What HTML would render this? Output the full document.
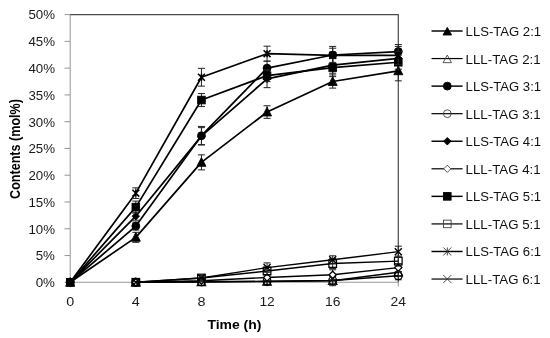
<!DOCTYPE html>
<html><head><meta charset="utf-8"><title>Chart</title>
<style>html,body{margin:0;padding:0;background:#fff}svg{display:block;will-change:transform;-webkit-font-smoothing:antialiased}</style>
</head><body>
<svg width="550" height="338" viewBox="0 0 550 338" font-family='"Liberation Sans", sans-serif'>
<rect width="550" height="338" fill="#fff"/>
<g stroke="#9a9a9a" stroke-width="1.05" fill="none">
<line x1="70.2" y1="14.6" x2="70.2" y2="282.3"/>
<line x1="70.2" y1="282.3" x2="398.3" y2="282.3"/>
<line x1="64.6" y1="282.30" x2="70.2" y2="282.30"/>
<line x1="64.6" y1="255.53" x2="70.2" y2="255.53"/>
<line x1="64.6" y1="228.76" x2="70.2" y2="228.76"/>
<line x1="64.6" y1="201.99" x2="70.2" y2="201.99"/>
<line x1="64.6" y1="175.22" x2="70.2" y2="175.22"/>
<line x1="64.6" y1="148.45" x2="70.2" y2="148.45"/>
<line x1="64.6" y1="121.68" x2="70.2" y2="121.68"/>
<line x1="64.6" y1="94.91" x2="70.2" y2="94.91"/>
<line x1="64.6" y1="68.14" x2="70.2" y2="68.14"/>
<line x1="64.6" y1="41.37" x2="70.2" y2="41.37"/>
<line x1="64.6" y1="14.60" x2="70.2" y2="14.60"/>
<line x1="70.20" y1="282.3" x2="70.20" y2="286.5"/>
<line x1="135.82" y1="282.3" x2="135.82" y2="286.5"/>
<line x1="201.44" y1="282.3" x2="201.44" y2="286.5"/>
<line x1="267.06" y1="282.3" x2="267.06" y2="286.5"/>
<line x1="332.68" y1="282.3" x2="332.68" y2="286.5"/>
<line x1="398.30" y1="282.3" x2="398.30" y2="286.5"/>
</g>
<path d="M70.2 14.6 H398.3 V282.3" stroke="#4a4a4a" stroke-width="1.2" stroke-linejoin="round" fill="none"/>
<g font-size="13.5" fill="#1a1a1a" text-anchor="end">
<text x="55.0" y="287.1" textLength="19.3" lengthAdjust="spacingAndGlyphs">0%</text>
<text x="55.0" y="260.3" textLength="19.3" lengthAdjust="spacingAndGlyphs">5%</text>
<text x="55.0" y="233.6" textLength="26.6" lengthAdjust="spacingAndGlyphs">10%</text>
<text x="55.0" y="206.8" textLength="26.6" lengthAdjust="spacingAndGlyphs">15%</text>
<text x="55.0" y="180.0" textLength="26.6" lengthAdjust="spacingAndGlyphs">20%</text>
<text x="55.0" y="153.3" textLength="26.6" lengthAdjust="spacingAndGlyphs">25%</text>
<text x="55.0" y="126.5" textLength="26.6" lengthAdjust="spacingAndGlyphs">30%</text>
<text x="55.0" y="99.7" textLength="26.6" lengthAdjust="spacingAndGlyphs">35%</text>
<text x="55.0" y="72.9" textLength="26.6" lengthAdjust="spacingAndGlyphs">40%</text>
<text x="55.0" y="46.2" textLength="26.6" lengthAdjust="spacingAndGlyphs">45%</text>
<text x="55.0" y="19.4" textLength="26.6" lengthAdjust="spacingAndGlyphs">50%</text>
</g>
<g font-size="13.4" fill="#1a1a1a" text-anchor="middle">
<text x="70.2" y="306.3" textLength="8.0" lengthAdjust="spacingAndGlyphs">0</text>
<text x="135.8" y="306.3" textLength="8.0" lengthAdjust="spacingAndGlyphs">4</text>
<text x="201.4" y="306.3" textLength="8.0" lengthAdjust="spacingAndGlyphs">8</text>
<text x="267.1" y="306.3" textLength="15.4" lengthAdjust="spacingAndGlyphs">12</text>
<text x="332.7" y="306.3" textLength="15.4" lengthAdjust="spacingAndGlyphs">16</text>
<text x="398.3" y="306.3" textLength="15.4" lengthAdjust="spacingAndGlyphs">24</text>
</g>
<text x="234.4" y="329.2" font-size="13.2" font-weight="bold" fill="#000" text-anchor="middle" textLength="54" lengthAdjust="spacingAndGlyphs">Time (h)</text>
<text transform="translate(19.5 149.0) rotate(-90)" font-size="15.2" font-weight="bold" fill="#000" text-anchor="middle" textLength="99.8" lengthAdjust="spacingAndGlyphs">Contents (mol%)</text>
<g><polyline points="70.20,282.30 135.82,237.33 201.44,162.37 267.06,112.04 332.68,81.53 398.30,70.82" fill="none" stroke="#000" stroke-width="1.7" stroke-linejoin="round"/>
<path d="M135.82 232.33 V242.33 M132.32 232.33 h7 M132.32 242.33 h7 M201.44 154.87 V169.87 M197.94 154.87 h7 M197.94 169.87 h7 M267.06 105.74 V118.34 M263.56 105.74 h7 M263.56 118.34 h7 M332.68 74.93 V88.12 M329.18 74.93 h7 M329.18 88.12 h7 M398.30 60.82 V80.82 M394.80 60.82 h7 M394.80 80.82 h7" stroke="#222" stroke-width="1" fill="none"/>
<path d="M70.20 277.50 L74.70 286.20 L65.70 286.20 Z" fill="#000" stroke="#000" stroke-width="0.9"/>
<path d="M135.82 232.53 L140.32 241.23 L131.32 241.23 Z" fill="#000" stroke="#000" stroke-width="0.9"/>
<path d="M201.44 157.57 L205.94 166.27 L196.94 166.27 Z" fill="#000" stroke="#000" stroke-width="0.9"/>
<path d="M267.06 107.24 L271.56 115.94 L262.56 115.94 Z" fill="#000" stroke="#000" stroke-width="0.9"/>
<path d="M332.68 76.73 L337.18 85.43 L328.18 85.43 Z" fill="#000" stroke="#000" stroke-width="0.9"/>
<path d="M398.30 66.02 L402.80 74.72 L393.80 74.72 Z" fill="#000" stroke="#000" stroke-width="0.9"/>
</g>
<g><polyline points="135.82,282.30 201.44,282.03 267.06,281.50 332.68,280.69 398.30,272.29" fill="none" stroke="#000" stroke-width="1.4" stroke-linejoin="round"/>
<path d="M267.06 278.00 V285.00 M263.56 278.00 h7 M263.56 285.00 h7 M332.68 275.69 V285.69 M329.18 275.69 h7 M329.18 285.69 h7 M398.30 268.29 V276.29 M394.80 268.29 h7 M394.80 276.29 h7" stroke="#222" stroke-width="1" fill="none"/>
<path d="M135.82 278.30 L140.02 285.90 L131.62 285.90 Z" fill="none" stroke="#000" stroke-width="1.25"/>
<path d="M201.44 278.03 L205.64 285.63 L197.24 285.63 Z" fill="none" stroke="#000" stroke-width="1.25"/>
<path d="M267.06 277.50 L271.26 285.10 L262.86 285.10 Z" fill="none" stroke="#000" stroke-width="1.25"/>
<path d="M332.68 276.69 L336.88 284.29 L328.48 284.29 Z" fill="none" stroke="#000" stroke-width="1.25"/>
<path d="M398.30 268.29 L402.50 275.89 L394.10 275.89 Z" fill="none" stroke="#000" stroke-width="1.25"/>
</g>
<g><polyline points="70.20,282.30 135.82,226.08 201.44,135.71 267.06,68.14 332.68,55.02 398.30,51.54" fill="none" stroke="#000" stroke-width="1.7" stroke-linejoin="round"/>
<path d="M135.82 222.08 V230.08 M132.32 222.08 h7 M132.32 230.08 h7 M201.44 126.41 V145.01 M197.94 126.41 h7 M197.94 145.01 h7 M267.06 61.14 V75.14 M263.56 61.14 h7 M263.56 75.14 h7 M332.68 46.42 V63.62 M329.18 46.42 h7 M329.18 63.62 h7 M398.30 44.54 V58.54 M394.80 44.54 h7 M394.80 58.54 h7" stroke="#222" stroke-width="1" fill="none"/>
<circle cx="70.20" cy="282.30" r="3.95" fill="#000" stroke="#000" stroke-width="0.9"/>
<circle cx="135.82" cy="226.08" r="3.95" fill="#000" stroke="#000" stroke-width="0.9"/>
<circle cx="201.44" cy="135.71" r="3.95" fill="#000" stroke="#000" stroke-width="0.9"/>
<circle cx="267.06" cy="68.14" r="3.95" fill="#000" stroke="#000" stroke-width="0.9"/>
<circle cx="332.68" cy="55.02" r="3.95" fill="#000" stroke="#000" stroke-width="0.9"/>
<circle cx="398.30" cy="51.54" r="3.95" fill="#000" stroke="#000" stroke-width="0.9"/>
</g>
<g><polyline points="135.82,282.30 201.44,281.76 267.06,281.23 332.68,280.43 398.30,275.77" fill="none" stroke="#000" stroke-width="1.4" stroke-linejoin="round"/>
<path d="M267.06 278.23 V284.23 M263.56 278.23 h7 M263.56 284.23 h7 M332.68 276.43 V284.43 M329.18 276.43 h7 M329.18 284.43 h7 M398.30 271.77 V279.77 M394.80 271.77 h7 M394.80 279.77 h7" stroke="#222" stroke-width="1" fill="none"/>
<circle cx="135.82" cy="282.30" r="3.9" fill="none" stroke="#000" stroke-width="1.25"/>
<circle cx="201.44" cy="281.76" r="3.9" fill="none" stroke="#000" stroke-width="1.25"/>
<circle cx="267.06" cy="281.23" r="3.9" fill="none" stroke="#000" stroke-width="1.25"/>
<circle cx="332.68" cy="280.43" r="3.9" fill="none" stroke="#000" stroke-width="1.25"/>
<circle cx="398.30" cy="275.77" r="3.9" fill="none" stroke="#000" stroke-width="1.25"/>
</g>
<g><polyline points="70.20,282.30 135.82,216.18 201.44,136.14 267.06,78.85 332.68,65.20 398.30,58.40" fill="none" stroke="#000" stroke-width="1.7" stroke-linejoin="round"/>
<path d="M135.82 212.18 V220.18 M132.32 212.18 h7 M132.32 220.18 h7 M201.44 127.64 V144.64 M197.94 127.64 h7 M197.94 144.64 h7 M267.06 70.05 V87.65 M263.56 70.05 h7 M263.56 87.65 h7 M332.68 57.20 V73.20 M329.18 57.20 h7 M329.18 73.20 h7 M398.30 51.40 V65.40 M394.80 51.40 h7 M394.80 65.40 h7" stroke="#222" stroke-width="1" fill="none"/>
<path d="M70.20 278.55 L73.95 282.30 L70.20 286.05 L66.45 282.30 Z" fill="#000" stroke="#000" stroke-width="0.9"/>
<path d="M135.82 212.43 L139.57 216.18 L135.82 219.93 L132.07 216.18 Z" fill="#000" stroke="#000" stroke-width="0.9"/>
<path d="M201.44 132.39 L205.19 136.14 L201.44 139.89 L197.69 136.14 Z" fill="#000" stroke="#000" stroke-width="0.9"/>
<path d="M267.06 75.10 L270.81 78.85 L267.06 82.60 L263.31 78.85 Z" fill="#000" stroke="#000" stroke-width="0.9"/>
<path d="M332.68 61.45 L336.43 65.20 L332.68 68.95 L328.93 65.20 Z" fill="#000" stroke="#000" stroke-width="0.9"/>
<path d="M398.30 54.65 L402.05 58.40 L398.30 62.15 L394.55 58.40 Z" fill="#000" stroke="#000" stroke-width="0.9"/>
</g>
<g><polyline points="135.82,282.30 201.44,280.69 267.06,277.48 332.68,274.80 398.30,267.58" fill="none" stroke="#000" stroke-width="1.4" stroke-linejoin="round"/>
<path d="M267.06 274.48 V280.48 M263.56 274.48 h7 M263.56 280.48 h7 M332.68 269.80 V279.80 M329.18 269.80 h7 M329.18 279.80 h7 M398.30 263.58 V271.58 M394.80 263.58 h7 M394.80 271.58 h7" stroke="#222" stroke-width="1" fill="none"/>
<path d="M135.82 278.70 L139.42 282.30 L135.82 285.90 L132.22 282.30 Z" fill="#fff" stroke="#000" stroke-width="1.25"/>
<path d="M201.44 277.09 L205.04 280.69 L201.44 284.29 L197.84 280.69 Z" fill="#fff" stroke="#000" stroke-width="1.25"/>
<path d="M267.06 273.88 L270.66 277.48 L267.06 281.08 L263.46 277.48 Z" fill="#fff" stroke="#000" stroke-width="1.25"/>
<path d="M332.68 271.20 L336.28 274.80 L332.68 278.40 L329.08 274.80 Z" fill="#fff" stroke="#000" stroke-width="1.25"/>
<path d="M398.30 263.98 L401.90 267.58 L398.30 271.18 L394.70 267.58 Z" fill="#fff" stroke="#000" stroke-width="1.25"/>
</g>
<g><polyline points="70.20,282.30 135.82,207.08 201.44,100.05 267.06,75.64 332.68,67.60 398.30,62.25" fill="none" stroke="#000" stroke-width="1.7" stroke-linejoin="round"/>
<path d="M135.82 201.08 V213.08 M132.32 201.08 h7 M132.32 213.08 h7 M201.44 93.55 V106.55 M197.94 93.55 h7 M197.94 106.55 h7 M267.06 69.64 V81.64 M263.56 69.64 h7 M263.56 81.64 h7 M332.68 58.60 V76.60 M329.18 58.60 h7 M329.18 76.60 h7 M398.30 55.25 V69.25 M394.80 55.25 h7 M394.80 69.25 h7" stroke="#222" stroke-width="1" fill="none"/>
<rect x="66.40" y="278.50" width="7.6" height="7.6" fill="#000" stroke="#000" stroke-width="0.9"/>
<rect x="132.02" y="203.28" width="7.6" height="7.6" fill="#000" stroke="#000" stroke-width="0.9"/>
<rect x="197.64" y="96.25" width="7.6" height="7.6" fill="#000" stroke="#000" stroke-width="0.9"/>
<rect x="263.26" y="71.84" width="7.6" height="7.6" fill="#000" stroke="#000" stroke-width="0.9"/>
<rect x="328.88" y="63.80" width="7.6" height="7.6" fill="#000" stroke="#000" stroke-width="0.9"/>
<rect x="394.50" y="58.45" width="7.6" height="7.6" fill="#000" stroke="#000" stroke-width="0.9"/>
</g>
<g><polyline points="135.82,282.30 201.44,278.02 267.06,271.06 332.68,263.56 398.30,261.10" fill="none" stroke="#000" stroke-width="1.4" stroke-linejoin="round"/>
<path d="M201.44 275.52 V280.52 M197.94 275.52 h7 M197.94 280.52 h7 M267.06 267.06 V275.06 M263.56 267.06 h7 M263.56 275.06 h7 M332.68 258.56 V268.56 M329.18 258.56 h7 M329.18 268.56 h7 M398.30 256.10 V266.10 M394.80 256.10 h7 M394.80 266.10 h7" stroke="#222" stroke-width="1" fill="none"/>
<rect x="132.02" y="278.50" width="7.6" height="7.6" fill="none" stroke="#000" stroke-width="1.25"/>
<rect x="197.64" y="274.22" width="7.6" height="7.6" fill="none" stroke="#000" stroke-width="1.25"/>
<rect x="263.26" y="267.26" width="7.6" height="7.6" fill="none" stroke="#000" stroke-width="1.25"/>
<rect x="328.88" y="259.76" width="7.6" height="7.6" fill="none" stroke="#000" stroke-width="1.25"/>
<rect x="394.50" y="257.30" width="7.6" height="7.6" fill="none" stroke="#000" stroke-width="1.25"/>
</g>
<g><polyline points="70.20,282.30 135.82,193.16 201.44,77.24 267.06,53.68 332.68,55.29 398.30,55.45" fill="none" stroke="#000" stroke-width="1.7" stroke-linejoin="round"/>
<path d="M135.82 187.86 V198.46 M132.32 187.86 h7 M132.32 198.46 h7 M201.44 68.34 V86.14 M197.94 68.34 h7 M197.94 86.14 h7 M267.06 46.18 V61.18 M263.56 46.18 h7 M263.56 61.18 h7 M332.68 48.19 V62.39 M329.18 48.19 h7 M329.18 62.39 h7 M398.30 46.45 V64.45 M394.80 46.45 h7 M394.80 64.45 h7" stroke="#222" stroke-width="1" fill="none"/>
<path d="M66.75 278.85 L73.65 285.75 M73.65 278.85 L66.75 285.75 M70.20 278.85 V285.75" fill="none" stroke="#000" stroke-width="1.55"/>
<path d="M132.37 189.71 L139.27 196.61 M139.27 189.71 L132.37 196.61 M135.82 189.71 V196.61" fill="none" stroke="#000" stroke-width="1.55"/>
<path d="M197.99 73.79 L204.89 80.69 M204.89 73.79 L197.99 80.69 M201.44 73.79 V80.69" fill="none" stroke="#000" stroke-width="1.55"/>
<path d="M263.61 50.23 L270.51 57.13 M270.51 50.23 L263.61 57.13 M267.06 50.23 V57.13" fill="none" stroke="#000" stroke-width="1.55"/>
<path d="M329.23 51.84 L336.13 58.74 M336.13 51.84 L329.23 58.74 M332.68 51.84 V58.74" fill="none" stroke="#000" stroke-width="1.55"/>
<path d="M394.85 52.00 L401.75 58.90 M401.75 52.00 L394.85 58.90 M398.30 52.00 V58.90" fill="none" stroke="#000" stroke-width="1.55"/>
</g>
<g><polyline points="135.82,282.30 201.44,278.02 267.06,267.58 332.68,259.81 398.30,251.68" fill="none" stroke="#000" stroke-width="1.4" stroke-linejoin="round"/>
<path d="M267.06 262.88 V272.28 M263.56 262.88 h7 M263.56 272.28 h7 M332.68 255.81 V263.81 M329.18 255.81 h7 M329.18 263.81 h7 M398.30 246.18 V257.18 M394.80 246.18 h7 M394.80 257.18 h7" stroke="#222" stroke-width="1" fill="none"/>
<path d="M132.32 278.80 L139.32 285.80 M139.32 278.80 L132.32 285.80" fill="none" stroke="#000" stroke-width="1.4"/>
<path d="M197.94 274.52 L204.94 281.52 M204.94 274.52 L197.94 281.52" fill="none" stroke="#000" stroke-width="1.4"/>
<path d="M263.56 264.08 L270.56 271.08 M270.56 264.08 L263.56 271.08" fill="none" stroke="#000" stroke-width="1.4"/>
<path d="M329.18 256.31 L336.18 263.31 M336.18 256.31 L329.18 263.31" fill="none" stroke="#000" stroke-width="1.4"/>
<path d="M394.80 248.18 L401.80 255.18 M401.80 248.18 L394.80 255.18" fill="none" stroke="#000" stroke-width="1.4"/>
</g>
<g font-size="13.5" fill="#111">
<line x1="431.5" y1="31.00" x2="462.6" y2="31.00" stroke="#000" stroke-width="1.45"/>
<path d="M447.30 27.40 L451.60 35.00 L443.00 35.00 Z" fill="#000" stroke="#000" stroke-width="0.9"/>
<text x="465.6" y="36.10" textLength="75.5" lengthAdjust="spacingAndGlyphs">LLS-TAG 2:1</text>
<line x1="431.5" y1="58.56" x2="462.6" y2="58.56" stroke="#000" stroke-width="1.2"/>
<path d="M447.30 55.06 L451.50 62.66 L443.10 62.66 Z" fill="none" stroke="#3a3a3a" stroke-width="0.85"/>
<text x="465.6" y="63.60" textLength="75.0" lengthAdjust="spacingAndGlyphs">LLL-TAG 2:1</text>
<line x1="431.5" y1="86.12" x2="462.6" y2="86.12" stroke="#000" stroke-width="1.45"/>
<circle cx="447.30" cy="86.12" r="3.95" fill="#000" stroke="#000" stroke-width="0.9"/>
<text x="465.6" y="91.10" textLength="75.5" lengthAdjust="spacingAndGlyphs">LLS-TAG 3:1</text>
<line x1="431.5" y1="113.68" x2="462.6" y2="113.68" stroke="#000" stroke-width="1.2"/>
<circle cx="447.30" cy="113.68" r="3.9" fill="none" stroke="#3a3a3a" stroke-width="0.85"/>
<text x="465.6" y="118.60" textLength="75.0" lengthAdjust="spacingAndGlyphs">LLL-TAG 3:1</text>
<line x1="431.5" y1="141.24" x2="462.6" y2="141.24" stroke="#000" stroke-width="1.45"/>
<path d="M447.30 137.49 L451.05 141.24 L447.30 144.99 L443.55 141.24 Z" fill="#000" stroke="#000" stroke-width="0.9"/>
<text x="465.6" y="146.10" textLength="75.5" lengthAdjust="spacingAndGlyphs">LLS-TAG 4:1</text>
<line x1="431.5" y1="168.80" x2="462.6" y2="168.80" stroke="#000" stroke-width="1.2"/>
<path d="M447.30 165.20 L450.90 168.80 L447.30 172.40 L443.70 168.80 Z" fill="#fff" stroke="#3a3a3a" stroke-width="0.85"/>
<text x="465.6" y="173.60" textLength="75.0" lengthAdjust="spacingAndGlyphs">LLL-TAG 4:1</text>
<line x1="431.5" y1="196.36" x2="462.6" y2="196.36" stroke="#000" stroke-width="1.45"/>
<rect x="443.50" y="192.56" width="7.6" height="7.6" fill="#000" stroke="#000" stroke-width="0.9"/>
<text x="465.6" y="201.10" textLength="75.5" lengthAdjust="spacingAndGlyphs">LLS-TAG 5:1</text>
<line x1="431.5" y1="223.92" x2="462.6" y2="223.92" stroke="#000" stroke-width="1.2"/>
<rect x="443.50" y="220.12" width="7.6" height="7.6" fill="none" stroke="#3a3a3a" stroke-width="0.85"/>
<text x="465.6" y="228.60" textLength="75.0" lengthAdjust="spacingAndGlyphs">LLL-TAG 5:1</text>
<line x1="431.5" y1="251.48" x2="462.6" y2="251.48" stroke="#000" stroke-width="1.45"/>
<path d="M443.30 247.48 L451.30 255.48 M451.30 247.48 L443.30 255.48 M447.30 247.48 V255.48" fill="none" stroke="#333" stroke-width="0.9"/>
<text x="465.6" y="256.10" textLength="75.5" lengthAdjust="spacingAndGlyphs">LLS-TAG 6:1</text>
<line x1="431.5" y1="279.04" x2="462.6" y2="279.04" stroke="#000" stroke-width="1.2"/>
<path d="M443.30 275.04 L451.30 283.04 M451.30 275.04 L443.30 283.04" fill="none" stroke="#333" stroke-width="0.85"/>
<text x="465.6" y="283.60" textLength="75.0" lengthAdjust="spacingAndGlyphs">LLL-TAG 6:1</text>
</g>
</svg>
</body></html>
